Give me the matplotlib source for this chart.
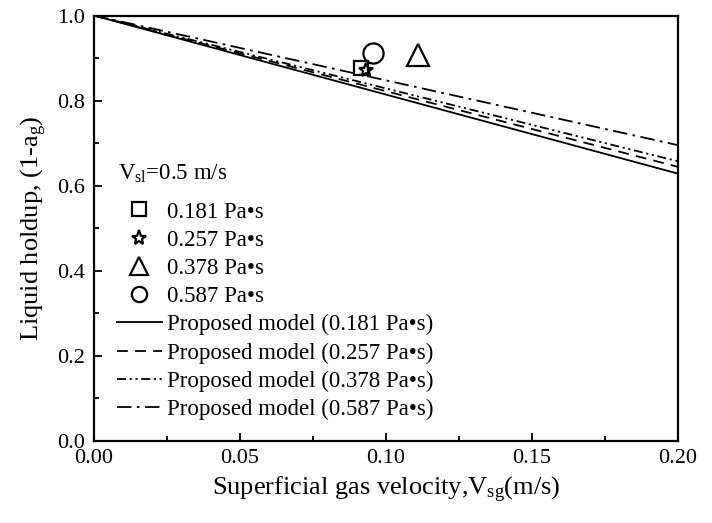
import matplotlib
matplotlib.use('Agg')
import matplotlib.pyplot as plt
from matplotlib.ticker import MultipleLocator

plt.rcParams['font.family'] = 'Liberation Serif'
plt.rcParams['mathtext.fontset'] = 'custom'
plt.rcParams['mathtext.rm'] = 'Liberation Serif'
plt.rcParams['mathtext.it'] = 'Liberation Serif:italic'

# measured liquid holdup, Vsl = 0.5 m/s
viscosity = ['0.181', '0.257', '0.378', '0.587']
vsg_exp = [0.0916, 0.0932, 0.111, 0.0955]
holdup_exp = [0.877, 0.872, 0.907, 0.912]
markers = ['s', '*', '^', 'o']
msizes = [10.5, 10.5, 16.5, 14.5]
leg_msizes = [9.5, 11, 13, 11]

# proposed model lines (start / end)
vsg_model = [0.0, 0.20]
holdup_model = [
    [1.0, 0.628],
    [1.0, 0.644],
    [1.0, 0.657],
    [1.0, 0.695],
]
dashes = [(None, None), (6, 4), (5, 2, 1.2, 2, 1.2, 2), (8, 3, 1.5, 3)]

fig = plt.figure(figsize=(7.12, 5.23), dpi=100)
ax = fig.add_axes([0.132, 0.1577, 0.8202, 0.8126])

for i in range(4):
    ax.plot(vsg_exp[i], holdup_exp[i], linestyle='none', marker=markers[i],
            markersize=msizes[i], markerfacecolor='none', markeredgecolor='black',
            markeredgewidth=1.6, label=viscosity[i] + ' Pa\u2022s')

for i in range(4):
    if dashes[i][0] is None:
        ax.plot(vsg_model, holdup_model[i], color='black', lw=1.3,
                label='Proposed model (' + viscosity[i] + ' Pa\u2022s)')
    else:
        ax.plot(vsg_model, holdup_model[i], color='black', lw=1.3, dashes=dashes[i],
                label='Proposed model (' + viscosity[i] + ' Pa\u2022s)')

ax.set_xlim(0, 0.20)
ax.set_ylim(0, 1.0)
ax.xaxis.set_major_locator(MultipleLocator(0.05))
ax.xaxis.set_minor_locator(MultipleLocator(0.025))
ax.yaxis.set_major_locator(MultipleLocator(0.2))
ax.yaxis.set_minor_locator(MultipleLocator(0.1))
ax.set_xticklabels([f'{v:.2f}' for v in ax.get_xticks()])
ax.set_yticklabels([f'{v:.1f}' for v in ax.get_yticks()])
ax.tick_params(which='both', direction='in', labelsize=16, top=False, right=False)
ax.tick_params(which='major', length=6, width=1.3)
ax.tick_params(which='minor', length=3.5, width=1.3)
ax.tick_params(axis='y', pad=6.5)
ax.tick_params(axis='x', pad=6)
for s in ax.spines.values():
    s.set_linewidth(1.6)

ax.set_xlabel('Superficial gas velocity,V$_{\\rm sg}$(m/s)', fontsize=19, labelpad=5)
ax.set_ylabel('Liquid holdup, (1-a$_{\\rm g}$)', fontsize=19, labelpad=6)

# legend header
ax.text(0.041, 0.613, 'V$_{\\rm sl}$=0.5 m/s', transform=ax.transAxes,
        fontsize=16.5, ha='left', va='baseline')

leg = ax.legend(loc='lower left', bbox_to_anchor=(0.039, 0.048), frameon=False,
                fontsize=16.5, handlelength=1.96, handletextpad=0.22,
                labelspacing=0.31, borderaxespad=0, borderpad=0)
for h, ms in zip(leg.legend_handles[:4], leg_msizes):
    h.set_markersize(ms)

fig.savefig('out.png', dpi=100)
